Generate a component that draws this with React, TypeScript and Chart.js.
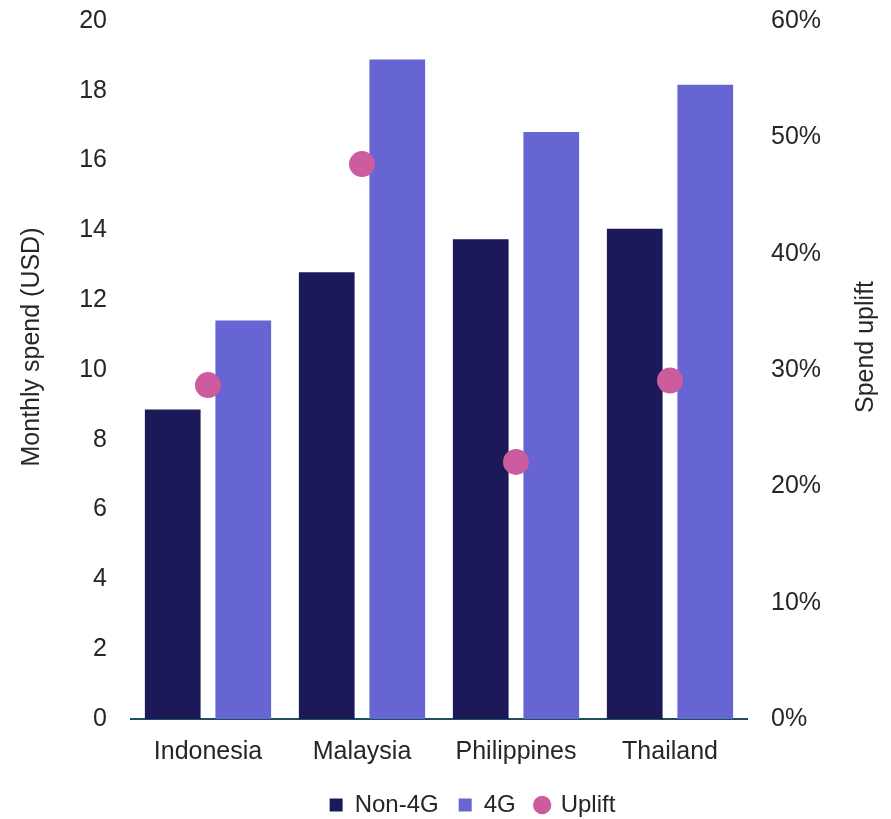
import React, { useEffect, useRef } from "react";
import { Chart, registerables } from "chart.js";

Chart.register(...registerables);

const categories = ["Indonesia", "Malaysia", "Philippines", "Thailand"];
const non4G = [8.87, 12.8, 13.75, 14.05];
const fourG = [11.42, 18.9, 16.82, 18.17];
const uplift = [0.287, 0.477, 0.221, 0.291];
const leftTicks = [0, 2, 4, 6, 8, 10, 12, 14, 16, 18, 20];
const leftTitle = "Monthly spend (USD)";
const rightTitle = "Spend uplift";

const FONT = "'Liberation Sans', Arial, sans-serif";
const TEXT = "#262626";
const SHIFT = 10;
const W = 875;
const H = 819 + SHIFT;

export default function App() {
  const ref = useRef<HTMLCanvasElement | null>(null);
  useEffect(() => {
    if (!ref.current) return;
    const titlesPlugin = {
      id: "titles",
      afterLayout(chart: any) {
        const lg = chart.legend;
        if (lg) {
          lg.left += 27;
          lg.right += 27;
          lg.top += 8;
          lg.bottom += 8;
        }
      },
      afterDraw(chart: any) {
        const ctx = chart.ctx;
        const cy = 347 + SHIFT;
        const draw = (text: string, x: number) => {
          ctx.save();
          ctx.font = `25px ${FONT}`;
          ctx.fillStyle = TEXT;
          ctx.textAlign = "center";
          ctx.textBaseline = "middle";
          ctx.translate(x, cy);
          ctx.rotate(-Math.PI / 2);
          ctx.fillText(text, 0, 0);
          ctx.restore();
        };
        draw(leftTitle, 24);
        draw(rightTitle, 858);
      },
    };
    const chart = new Chart(ref.current, {
      type: "bar",
      data: {
        labels: categories,
        datasets: [
          {
            type: "line" as any,
            label: "Uplift",
            data: uplift,
            yAxisID: "y1",
            showLine: false,
            pointRadius: 13,
            pointHoverRadius: 13,
            pointBackgroundColor: "#CC5C9E",
            pointBorderWidth: 0,
            borderColor: "#CC5C9E",
            backgroundColor: "#CC5C9E",
            pointStyle: "circle",
            order: 0,
          } as any,
          {
            label: "Non-4G",
            data: non4G,
            backgroundColor: "#1B1958",
            yAxisID: "y",
            pointStyle: "rect",
            order: 1,
            categoryPercentage: 0.916,
            barPercentage: 0.79,
          } as any,
          {
            label: "4G",
            data: fourG,
            backgroundColor: "#6764D4",
            yAxisID: "y",
            pointStyle: "rect",
            order: 1,
            categoryPercentage: 0.916,
            barPercentage: 0.79,
          } as any,
        ],
      },
      plugins: [titlesPlugin],
      options: {
        animation: false,
        responsive: false,
        maintainAspectRatio: false,
        layout: { padding: { top: 0, left: 0, right: 0, bottom: 0 } },
        plugins: {
          tooltip: { enabled: false },
          legend: {
            position: "bottom",
            labels: {
              usePointStyle: true,
              boxHeight: 13,
              boxWidth: 13,
              color: TEXT,
              font: { family: FONT, size: 24 },
              padding: 20,
              sort: (a: any, b: any) => {
                const ord = ["Non-4G", "4G", "Uplift"];
                return ord.indexOf(a.text) - ord.indexOf(b.text);
              },
            },
          },
        },
        scales: {
          x: {
            grid: { display: false },
            border: { display: true, color: "#1F4E5F", width: 2 },
            ticks: { color: TEXT, font: { family: FONT, size: 25 }, padding: 10 },
            afterFit: (axis: any) => {
              axis.height = 46;
            },
          },
          y: {
            position: "left",
            min: 0,
            max: 20,
            afterBuildTicks: (axis: any) => {
              axis.ticks = leftTicks.map((v) => ({ value: v }));
            },
            grid: { display: false },
            border: { display: false },
            ticks: { color: TEXT, font: { family: FONT, size: 25 }, padding: 16 },
            afterFit: (axis: any) => {
              axis.width = 123;
            },
          },
          y1: {
            position: "right",
            min: 0,
            max: 0.6,
            ticks: {
              stepSize: 0.1,
              color: TEXT,
              font: { family: FONT, size: 25 },
              padding: 16,
              callback: (v: any) => Math.round(Number(v) * 100) + "%",
            },
            grid: { display: false },
            border: { display: false },
            afterFit: (axis: any) => {
              axis.width = 136;
            },
          },
        },
      },
    });
    return () => chart.destroy();
  }, []);
  return (
    <div style={{ width: W, height: H, marginTop: -8 - SHIFT }}>
      <canvas ref={ref} width={W} height={H} style={{ width: W, height: H, display: "block" }} />
    </div>
  );
}
